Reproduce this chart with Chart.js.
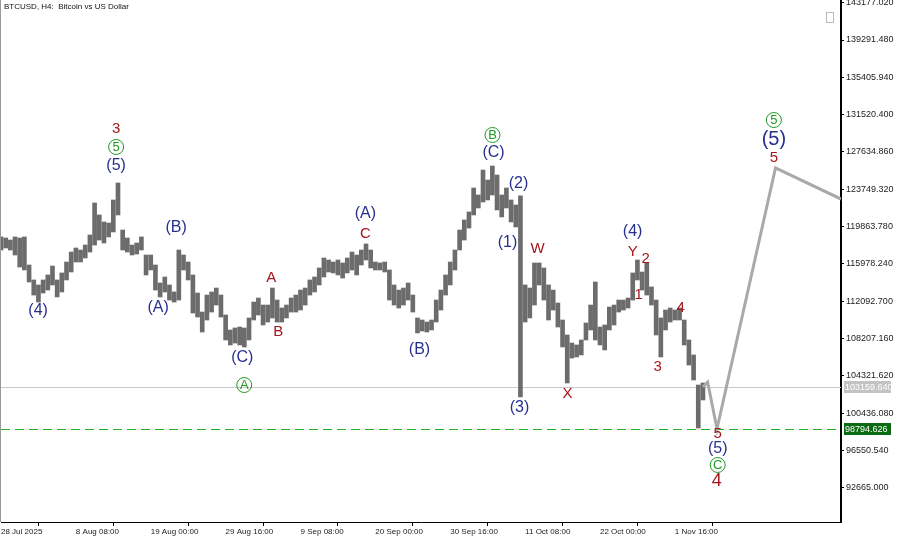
<!DOCTYPE html>
<html>
<head>
<meta charset="utf-8">
<title>BTCUSD H4</title>
<script src="https://cdn.jsdelivr.net/npm/chart.js@4.4.0/dist/chart.umd.min.js"></script>
<style>
	html, body { margin: 0; padding: 0; background: #fff; }
	#wrap { width: 900px; height: 540px; }
</style>
</head>
<body>
<div id="wrap"><canvas id="btcChart" width="900" height="540"></canvas></div>
<script>
// time axis labels, one every 64 H4 bars
var dateLabels = ["28 Jul 2025", "8 Aug 08:00", "19 Aug 00:00", "29 Aug 16:00", "9 Sep 08:00",
	"20 Sep 00:00", "30 Sep 16:00", "11 Oct 08:00", "22 Oct 00:00", "1 Nov 16:00"];

var yTickValues = [92665.000, 96550.540, 100436.080, 104321.620, 108207.160, 112092.700, 115978.240,
	119863.780, 123749.320, 127634.860, 131520.400, 135405.940, 139291.480, 143177.020];

// price ranges, one sample every 4 H4 bars (16 hours)
var barHigh = [
	118780, 118670, 118460, 118780, 118670, 118780, 115860, 114300, 113780, 114300,
	114820, 115750, 114300, 115030, 116170, 117210, 117630, 117420, 117940, 118980,
	122320, 121070, 120340, 120230, 122630, 124400, 119500, 118670, 117940, 118150,
	118780, 116900, 116900, 115860, 113980, 114610, 113780, 113050, 117420, 116900,
	116170, 114820, 112940, 110960, 112730, 113050, 113460, 112730, 110650, 109090,
	109300, 109400, 109300, 110340, 112000, 112420, 111690, 111690, 113460, 112210,
	111380, 111690, 112420, 112730, 113250, 113460, 114300, 114610, 115550, 116590,
	116380, 116170, 116380, 116070, 116590, 117210, 116900, 117420, 118050, 117420,
	116170, 116070, 116170, 115340, 113780, 113250, 113460, 113980, 112730, 110340,
	110130, 109920, 110130, 112210, 113250, 114820, 116170, 117420, 119500, 120550,
	121380, 123880, 123150, 125750, 124710, 126170, 125230, 123150, 123880, 122630,
	122110, 123050, 113780, 113460, 116070, 116070, 115550, 113780, 113250, 111900,
	110130, 108570, 107730, 107530, 108050, 109820, 111690, 114090, 109400, 109610,
	111480, 111690, 112210, 112210, 112420, 115030, 116380, 115130, 116070, 113570,
	112210, 110340, 111170, 111380, 111170, 111380, 110130, 108050, 106490, 103360,
	103570
];
var barLow = [
	117420, 117630, 117420, 116900, 115650, 115340, 114090, 112730, 112000, 112940,
	113250, 113780, 112530, 113050, 114300, 115130, 116170, 116170, 116590, 117210,
	117940, 118460, 118150, 118780, 119300, 121070, 117420, 117210, 116900, 117000,
	117420, 114820, 115340, 113250, 112530, 113050, 112210, 112000, 112210, 115340,
	114300, 110860, 110440, 108880, 110130, 110960, 111690, 110440, 108050, 107530,
	107730, 107530, 107320, 108050, 110130, 110650, 109610, 109920, 110340, 109920,
	109920, 110340, 110960, 110960, 111170, 111690, 112730, 113050, 113780, 114610,
	115130, 115030, 114820, 114500, 115030, 115340, 114820, 115860, 116380, 115550,
	115340, 115340, 115130, 112210, 111690, 111380, 111690, 112210, 110960, 108780,
	108980, 108880, 109090, 109920, 111170, 112730, 113780, 115340, 117420, 118460,
	119710, 121070, 121800, 122420, 122630, 123150, 121590, 120860, 121800, 120340,
	119820, 102110, 109920, 110340, 111690, 113780, 112210, 110130, 111170, 109400,
	107320, 103570, 106170, 106280, 106490, 108050, 109090, 108050, 107530, 107010,
	109090, 109610, 110960, 111170, 111380, 112210, 114300, 113250, 112730, 111690,
	108570, 106280, 109090, 109920, 110130, 110130, 107530, 105440, 103880, 98880,
	101800
];
var barIdx = [];
for (var i = 0; i < barHigh.length; i++) { barIdx.push(i * 4); }

// projected path after the last bar
var forecastIdx = [600, 604, 612, 662, 718];
var forecastPrice = [103160, 103670, 98790, 125960, 122730];

var bidPrice = 103159.640;
var targetPrice = 98794.626;

// wave marks: text, style, bar index, price
var waveLabels = [
	["3", "red", 98.4, 130020], ["5", "circle", 98.4, 128150], ["(5)", "navy", 98.4, 126170],
	["(4)", "navy", 31.7, 111070], ["(B)", "navy", 149.7, 119710], ["(A)", "navy", 134.3, 111380],
	["(C)", "navy", 206.2, 106170], ["A", "circle", 207.9, 103360],
	["A", "red", 231, 114500], ["B", "red", 237, 108880],
	["(A)", "navy", 311.5, 121170], ["C", "red", 311.5, 119090], ["(B)", "navy", 357.7, 107000],
	["B", "circle", 420.1, 129400], ["(C)", "navy", 421, 127520],
	["(2)", "navy", 442.4, 124290], ["(1)", "navy", 433, 118150], ["(3)", "navy", 443.2, 100960],
	["W", "red", 458.6, 117520], ["X", "red", 484.3, 102420],
	["(4)", "navy", 539.9, 119290], ["Y", "red", 539.9, 117210], ["2", "red", 551, 116480],
	["1", "red", 545, 112730], ["3", "red", 561.3, 105230], ["4", "red", 581, 111380],
	["5", "red", 612.6, 98260], ["(5)", "navy", 612.6, 96690], ["C", "circle", 612.6, 95030],
	["4", "bigred", 611.8, 93360],
	["5", "circle", 660.6, 130960], ["(5)", "bignavy", 660.6, 128880], ["5", "red", 660.6, 127000]
];

var FONT = "'Liberation Sans', Arial, sans-serif";

var overlayPlugin = {
	id: 'overlay',
	beforeDatasetsDraw: function (chart) {
		var ctx = chart.ctx, a = chart.chartArea, y = chart.scales.y;
		ctx.save();
		ctx.fillStyle = '#9a9a9a';
		ctx.fillRect(Math.round(a.left) - 1, a.top, 1, a.bottom - a.top);
		var yb = Math.round(y.getPixelForValue(bidPrice));
		ctx.fillStyle = '#c8c8c8';
		ctx.fillRect(a.left, yb, a.right - a.left, 1);
		// dashed target line
		var yt = Math.round(y.getPixelForValue(targetPrice)) + 0.5;
		ctx.strokeStyle = '#1eb41e';
		ctx.lineWidth = 1.2;
		ctx.setLineDash([9, 5]);
		ctx.beginPath(); ctx.moveTo(a.left, yt); ctx.lineTo(a.right, yt); ctx.stroke();
		ctx.restore();
	},
	afterDatasetsDraw: function (chart) {
		var ctx = chart.ctx, a = chart.chartArea, xs = chart.scales.x, ys = chart.scales.y;
		ctx.save();
		ctx.textAlign = 'center';
		ctx.textBaseline = 'middle';
		waveLabels.forEach(function (l) {
			var px = xs.getPixelForValue(l[2]), py = ys.getPixelForValue(l[3]);
			if (l[1] === 'circle') {
				ctx.strokeStyle = '#1f9a24';
				ctx.lineWidth = 1;
				ctx.beginPath(); ctx.arc(px, py, 7.5, 0, Math.PI * 2); ctx.stroke();
				ctx.fillStyle = '#1f9a24';
				ctx.font = '13px ' + FONT;
				ctx.fillText(l[0], px, py + 0.5);
			} else {
				var size = 15, col = '#a3161b';
				if (l[1] === 'navy') { col = '#27308f'; size = 16; }
				if (l[1] === 'bignavy') { col = '#27308f'; size = 20; }
				if (l[1] === 'bigred') { size = 18; }
				ctx.fillStyle = col;
				ctx.font = size + 'px ' + FONT;
				ctx.fillText(l[0], px, py);
			}
		});
		// title and small corner box
		ctx.textAlign = 'left';
		ctx.textBaseline = 'top';
		ctx.fillStyle = '#111';
		ctx.font = '8px ' + FONT;
		ctx.fillText('BTCUSD, H4:  Bitcoin vs US Dollar', a.left + 3, 3);
		ctx.strokeStyle = '#bbb';
		ctx.lineWidth = 1;
		ctx.strokeRect(826.5, 12.5, 7, 10);
		ctx.restore();
	},
	afterDraw: function (chart) {
		var ctx = chart.ctx, a = chart.chartArea, ys = chart.scales.y;
		ctx.save();
		ctx.font = '9px ' + FONT;
		ctx.textAlign = 'left';
		ctx.textBaseline = 'middle';
		[[bidPrice, '#c3c3c3'], [targetPrice, '#0b6b12']].forEach(function (t) {
			var py = Math.round(ys.getPixelForValue(t[0]));
			ctx.fillStyle = t[1];
			ctx.fillRect(a.right + 3, py - 6, 47, 12);
			ctx.fillStyle = '#ffffff';
			ctx.fillText(t[0].toFixed(3), a.right + 4, py + 0.5);
		});
		ctx.restore();
	}
};

function loadBtcChart () {
	var priceData = barIdx.map(function (x, i) { return { x: x, y: [barLow[i], barHigh[i]] }; });
	var forecastData = forecastIdx.map(function (x, i) { return { x: x, y: forecastPrice[i] }; });

	var ctx = document.getElementById("btcChart");
	var btcChart = new Chart(ctx, {
		type: 'bar',
		data: {
			datasets: [{
				type: 'line',
				data: forecastData,
				borderColor: '#a9a9a9',
				borderWidth: 3,
				pointRadius: 0,
				tension: 0,
				fill: false
			}, {
				type: 'bar',
				data: priceData,
				backgroundColor: '#6c6c6c',
				borderWidth: 0,
				barThickness: 4
			}]
		},
		options: {
			responsive: false,
			animation: false,
			devicePixelRatio: 1,
			layout: { padding: { left: 1, top: 0, right: 0, bottom: 0 } },
			plugins: {
				legend: { display: false },
				tooltip: { enabled: false },
				title: { display: false }
			},
			scales: {
				x: {
					type: 'linear',
					min: 0,
					max: 718,
					offset: false,
					afterBuildTicks: function (scale) {
						scale.ticks = dateLabels.map(function (l, i) { return { value: i * 64 }; });
					},
					afterFit: function (scale) {
						scale.height = 18;
						scale.paddingLeft = 0;
						scale.paddingRight = 0;
					},
					ticks: {
						autoSkip: false,
						maxRotation: 0,
						align: 'start',
						padding: 1,
						color: '#222',
						font: { size: 8, family: FONT },
						callback: function (v, i) { return dateLabels[i]; }
					},
					grid: { drawOnChartArea: false, tickLength: 4, color: '#000' },
					border: { color: '#000', width: 1 }
				},
				y: {
					position: 'right',
					min: 89092,
					max: 143458,
					afterBuildTicks: function (scale) {
						scale.ticks = yTickValues.map(function (v) { return { value: v }; });
					},
					afterFit: function (scale) {
						scale.width = 59;
						scale.paddingTop = 0;
						scale.paddingBottom = 0;
					},
					ticks: {
						padding: 2,
						color: '#222',
						font: { size: 9, family: FONT },
						callback: function (v) { return v.toFixed(3); }
					},
					grid: { drawOnChartArea: false, tickLength: 3, color: '#000' },
					border: { color: '#000', width: 2 }
				}
			}
		},
		plugins: [overlayPlugin]
	});
}
window.addEventListener("load", function () { loadBtcChart(); });
</script>
</body>
</html>
